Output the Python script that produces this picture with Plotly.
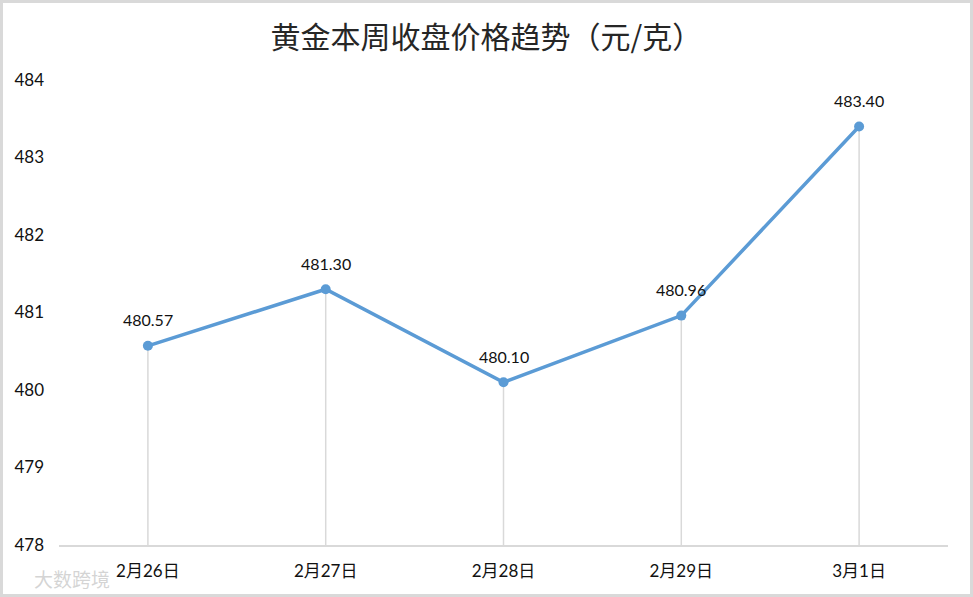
import plotly.graph_objects as go

categories = ["2月26日", "2月27日", "2月28日", "2月29日", "3月1日"]
prices = [480.57, 481.30, 480.10, 480.96, 483.40]
y_ticks = [478, 479, 480, 481, 482, 483, 484]
title_text = "黄金本周收盘价格趋势（元/克）"
y_min = 478

W, H = 973, 597
ML, MR, MT, MB = 59, 25, 80, 52
pw, ph = W - ML - MR, H - MT - MB

FONT = "Lato, 'Noto Sans CJK SC', sans-serif"

fig = go.Figure()

# drop lines from each point to the axis
dx, dy = [], []
for c, v in zip(categories, prices):
    dx += [c, c, None]
    dy += [y_min, v, None]
fig.add_trace(go.Scatter(x=dx, y=dy, mode="lines",
                         line=dict(color="#d9d9d9", width=1.5),
                         hoverinfo="skip", showlegend=False))

fig.add_trace(go.Scatter(
    x=categories, y=prices, mode="lines+markers",
    line=dict(color="#5b9bd5", width=3.5),
    marker=dict(color="#5b9bd5", size=10),
    showlegend=False))

for c, v in zip(categories, prices):
    fig.add_annotation(x=c, y=v, text=f"{v:.2f}", showarrow=False,
                       yshift=26, font=dict(size=16, color="#111111", family=FONT))

# outer border
fig.add_shape(type="rect", xref="paper", yref="paper",
              x0=-(ML - 1.5) / pw, x1=1 + (MR - 1.5) / pw,
              y0=-(MB - 1.5) / ph, y1=1 + (MT - 1.5) / ph,
              line=dict(color="#d9d9d9", width=3), layer="below")

# watermark
fig.add_annotation(xref="paper", yref="paper",
                   x=-(ML - 32) / pw, y=-(MB - 3) / ph, xanchor="left", yanchor="bottom",
                   text="大数跨境", showarrow=False,
                   font=dict(size=19, color="rgba(205,205,205,0.85)", family="'Noto Sans CJK SC'"))

fig.update_layout(
    width=W, height=H,
    margin=dict(l=ML, r=MR, t=MT, b=MB),
    paper_bgcolor="white", plot_bgcolor="white",
    title=dict(text=title_text, x=0.5, xref="container", xanchor="center",
               y=1 - 37 / H, yanchor="middle",
               font=dict(size=30, color="#262626", family="'Noto Sans CJK SC'")),
    xaxis=dict(type="category", range=[-0.5, len(categories) - 0.5],
               showgrid=False, showline=True, linecolor="#d9d9d9", linewidth=2,
               ticks="", tickfont=dict(size=17, color="#111111", family=FONT),
               ticklabelstandoff=10, zeroline=False),
    yaxis=dict(range=[y_min, 484], tickvals=y_ticks, showgrid=False,
               showline=False, zeroline=False, ticks="",
               tickfont=dict(size=17, color="#111111", family=FONT),
               ticklabelstandoff=14),
)

fig.write_html("out.html", config={"displayModeBar": False},
               post_script="document.body.style.margin='0';document.body.style.overflow='hidden';")
